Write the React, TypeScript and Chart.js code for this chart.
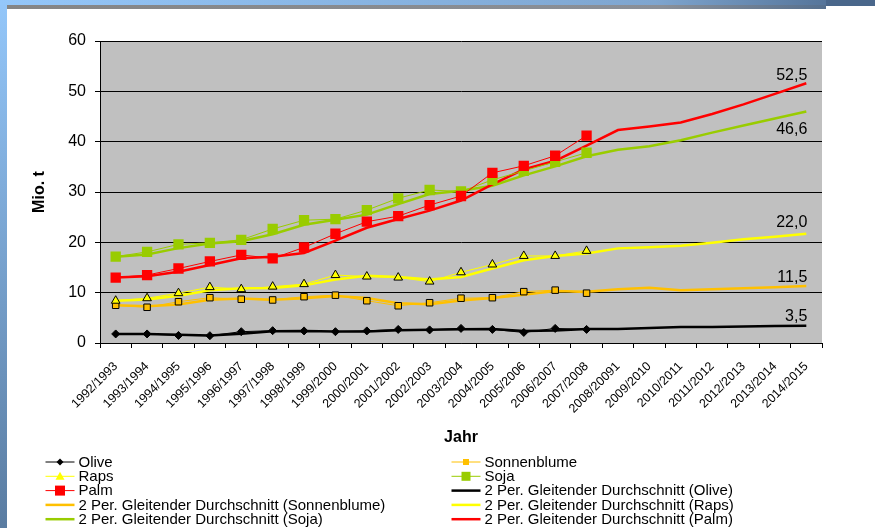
import { useEffect, useRef } from "react";
import { Chart, registerables } from "chart.js";

Chart.register(...registerables);

const categories = [
  "1992/1993", "1993/1994", "1994/1995", "1995/1996", "1996/1997", "1997/1998",
  "1998/1999", "1999/2000", "2000/2001", "2001/2002", "2002/2003", "2003/2004",
  "2004/2005", "2005/2006", "2006/2007", "2007/2008", "2008/20091", "2009/2010",
  "2010/2011", "2011/2012", "2012/2013", "2013/2014", "2014/2015",
];

const olive = [1.8, 1.8, 1.5, 1.45, 2.25, 2.45, 2.4, 2.25, 2.4, 2.7, 2.6, 2.9, 2.7, 2.1, 2.9, 2.7];
const sonnenblume = [7.5, 7.1, 8.2, 9.0, 8.7, 8.55, 9.2, 9.5, 8.4, 7.4, 8.0, 8.9, 9.0, 10.2, 10.5, 9.9];
const raps = [8.4, 8.9, 9.9, 11.1, 10.7, 11.2, 11.7, 13.5, 13.2, 13.0, 12.2, 14.05, 15.6, 17.3, 17.3, 18.3];
const palm = [13.0, 13.5, 14.8, 16.2, 17.5, 16.8, 19.0, 21.7, 24.1, 25.2, 27.4, 29.2, 33.8, 35.2, 37.2, 41.2];
const soja = [17.15, 18.1, 19.6, 19.9, 20.5, 22.65, 24.4, 24.6, 26.4, 28.75, 30.4, 30.1, 32.4, 34.2, 36.0, 37.8];

const maOlive = [1.8, 1.8, 1.65, 1.5, 1.85, 2.35, 2.4, 2.3, 2.3, 2.55, 2.65, 2.75, 2.8, 2.4, 2.5, 2.8, 2.8, 3.0, 3.2, 3.2, 3.3, 3.4, 3.45];
const maSonnenblume = [7.5, 7.3, 7.65, 8.6, 8.85, 8.6, 8.9, 9.35, 8.95, 7.9, 7.7, 8.45, 8.95, 9.6, 10.35, 10.2, 10.7, 11.0, 10.5, 10.7, 10.9, 11.1, 11.3];
const maRaps = [8.4, 8.65, 9.4, 10.5, 10.9, 10.95, 11.45, 12.6, 13.35, 13.1, 12.6, 13.1, 14.8, 16.45, 17.3, 17.8, 18.8, 19.0, 19.3, 19.9, 20.6, 21.1, 21.7];
const maPalm = [13.0, 13.25, 14.15, 15.5, 16.85, 17.15, 17.9, 20.35, 22.9, 24.65, 26.3, 28.3, 31.5, 34.5, 36.2, 39.2, 42.3, 43.0, 43.8, 45.5, 47.4, 49.5, 51.6];
const maSoja = [17.15, 17.6, 18.85, 19.75, 20.2, 21.6, 23.5, 24.5, 25.5, 27.6, 29.6, 30.25, 31.25, 33.3, 35.1, 37.1, 38.4, 39.1, 40.3, 41.8, 43.2, 44.6, 46.0];

// end-of-line labels for MA Olive, MA Sonnenblume, MA Raps, MA Soja, MA Palm
const endLabels = ["3,5", "11,5", "22,0", "46,6", "52,5"];

const yTicks = [0, 10, 20, 30, 40, 50, 60];

const FONT = "'Liberation Sans', Arial, sans-serif";

const pad = (arr: number[]) => categories.map((_, i) => (i < arr.length ? arr[i] : null));

const C_OLIVE = "#000000";
const C_SONNE = "#FFC000";
const C_RAPS = "#FFFF00";
const C_PALM = "#FF0000";
const C_SOJA = "#99CC00";

const bgPlugin = {
  id: "bgFrame",
  beforeDraw(chart: any) {
    const { ctx, chartArea: a, width, height } = chart;
    ctx.save();
    ctx.fillStyle = "#ffffff";
    ctx.fillRect(0, 0, width, height);
    let g = ctx.createLinearGradient(0, 0, 0, height);
    g.addColorStop(0, "#94c7fa");
    g.addColorStop(1, "#5a7ca1");
    ctx.fillStyle = g;
    ctx.fillRect(0, 0, 7, height);
    g = ctx.createLinearGradient(0, 0, width, 0);
    g.addColorStop(0, "#94c7fa");
    g.addColorStop(0.75, "#7ea5cf");
    g.addColorStop(1, "#4a678b");
    ctx.fillStyle = g;
    ctx.fillRect(0, 0, width, 5);
    ctx.fillStyle = "#4a678b";
    ctx.fillRect(826, 0, width - 826, 6);
    g = ctx.createLinearGradient(7, 0, 826, 0);
    g.addColorStop(0, "#858585");
    g.addColorStop(0.8, "#8a9099");
    g.addColorStop(1, "#56708f");
    ctx.fillStyle = g;
    ctx.fillRect(7, 5, 819, 4);
    ctx.fillStyle = "#C0C0C0";
    ctx.fillRect(a.left, a.top, a.right - a.left, a.bottom - a.top);
    ctx.restore();
  },
};

const endLabelPlugin = {
  id: "endLabels",
  afterDatasetsDraw(chart: any) {
    const { ctx } = chart;
    const maIdx = [5, 6, 7, 8, 9];
    const offsets = [-9, -9, -11, 18, -8];
    ctx.save();
    ctx.font = `16px ${FONT}`;
    ctx.fillStyle = "#000";
    ctx.textAlign = "right";
    ctx.textBaseline = "middle";
    maIdx.forEach((di, k) => {
      const meta = chart.getDatasetMeta(di);
      const pt = meta.data[meta.data.length - 1];
      if (!pt) return;
      ctx.fillText(endLabels[k], pt.x + 1, pt.y + offsets[k]);
    });
    ctx.restore();
  },
};

function drawMarker(ctx: CanvasRenderingContext2D, style: string, x: number, y: number, size: number, color: string) {
  ctx.fillStyle = color;
  ctx.beginPath();
  if (style === "rectRot") {
    ctx.moveTo(x, y - size);
    ctx.lineTo(x + size, y);
    ctx.lineTo(x, y + size);
    ctx.lineTo(x - size, y);
    ctx.closePath();
  } else if (style === "triangle") {
    ctx.moveTo(x, y - size);
    ctx.lineTo(x + size, y + size * 0.75);
    ctx.lineTo(x - size, y + size * 0.75);
    ctx.closePath();
  } else if (style === "rect") {
    ctx.rect(x - size, y - size, size * 2, size * 2);
  }
  ctx.fill();
}

const legendPlugin = {
  id: "customLegend",
  afterDraw(chart: any) {
    const { ctx } = chart;
    const cols = [
      { sym: 45.5, text: 78.5 },
      { sym: 451.5, text: 484.5 },
    ];
    const symW = 29;
    const y0 = 462;
    const rowH = 14.3;
    ctx.save();
    ctx.font = `15px ${FONT}`;
    ctx.textBaseline = "middle";
    ctx.textAlign = "left";
    chart.data.datasets.forEach((ds: any, i: number) => {
      const col = cols[i % 2];
      const y = y0 + Math.floor(i / 2) * rowH;
      ctx.strokeStyle = ds.borderColor;
      ctx.lineWidth = ds.legendLineWidth;
      ctx.beginPath();
      ctx.moveTo(col.sym, y);
      ctx.lineTo(col.sym + symW, y);
      ctx.stroke();
      if (ds.legendMarker) {
        drawMarker(ctx, ds.pointStyle, col.sym + symW / 2, y, ds.legendMarkerSize, ds.legendMarkerColor);
      }
      ctx.fillStyle = "#000";
      ctx.fillText(ds.label, col.text, y + 0.5);
    });
    ctx.restore();
  },
};

export default function App() {
  const ref = useRef<HTMLCanvasElement>(null);
  useEffect(() => {
    document.body.style.margin = "0";
    const series = (label: string, data: number[], color: string, style: string, radius: number, pFill: string, pBorder: string, pBW: number, order: number, lm: number) => ({
      label,
      data: pad(data),
      borderColor: color,
      backgroundColor: color,
      borderWidth: 1,
      pointStyle: style,
      pointRadius: radius,
      pointBackgroundColor: pFill,
      pointBorderColor: pBorder,
      pointBorderWidth: pBW,
      tension: 0,
      spanGaps: false,
      order,
      legendLineWidth: 1,
      legendMarker: true,
      legendMarkerSize: lm,
      legendMarkerColor: pFill,
    });
    const ma = (label: string, data: number[], color: string, order: number) => ({
      label,
      data,
      borderColor: color,
      backgroundColor: color,
      borderWidth: 2.5,
      pointRadius: 0,
      tension: 0,
      order,
      legendLineWidth: 2.5,
      legendMarker: false,
    });
    const chart = new Chart(ref.current!, {
      type: "line",
      data: {
        labels: categories,
        datasets: [
          series("Olive", olive, C_OLIVE, "rectRot", 4, C_OLIVE, C_OLIVE, 1, 4, 3.5),
          series("Sonnenblume", sonnenblume, C_SONNE, "rect", 4.6, C_SONNE, "#000", 1, 3, 3),
          series("Raps", raps, C_RAPS, "triangle", 5, C_RAPS, "#000", 1, 2, 4.5),
          series("Soja", soja, C_SOJA, "rect", 7.3, C_SOJA, C_SOJA, 0, 1, 4.5),
          series("Palm", palm, C_PALM, "rect", 7.3, C_PALM, C_PALM, 0, 0, 5),
          ma("2 Per. Gleitender Durchschnitt (Olive)", maOlive, C_OLIVE, 9),
          ma("2 Per. Gleitender Durchschnitt (Sonnenblume)", maSonnenblume, C_SONNE, 8),
          ma("2 Per. Gleitender Durchschnitt (Raps)", maRaps, C_RAPS, 7),
          ma("2 Per. Gleitender Durchschnitt (Soja)", maSoja, C_SOJA, 6),
          ma("2 Per. Gleitender Durchschnitt (Palm)", maPalm, C_PALM, 5),
        ] as any,
      },
      options: {
        responsive: false,
        devicePixelRatio: 1,
        animation: false,
        events: [],
        layout: { padding: { left: 0, top: 41, right: 53, bottom: 80 } },
        plugins: {
          legend: { display: false },
          tooltip: { enabled: false },
        },
        scales: {
          x: {
            type: "category",
            offset: true,
            afterFit: (s: any) => {
              s.height = 105;
            },
            grid: {
              offset: true,
              drawOnChartArea: false,
              drawTicks: true,
              tickLength: 5,
              color: "#000",
            },
            border: { display: true, color: "#000", width: 1 },
            ticks: {
              autoSkip: false,
              maxRotation: 45,
              minRotation: 45,
              padding: 11,
              color: "#000",
              font: { family: FONT, size: 12.5 },
            },
            title: {
              display: true,
              text: "Jahr",
              color: "#000",
              font: { family: FONT, size: 16, weight: "bold" },
              padding: { top: 0, bottom: 1 },
            },
          },
          y: {
            min: 0,
            max: 60,
            afterFit: (s: any) => {
              s.width = 100;
            },
            afterBuildTicks: (s: any) => {
              s.ticks = yTicks.map((v) => ({ value: v }));
            },
            grid: {
              color: "#000",
              lineWidth: 1,
              drawTicks: true,
              tickLength: 5,
            },
            border: { display: true, color: "#000", width: 1 },
            ticks: {
              padding: 9,
              color: "#000",
              font: { family: FONT, size: 16 },
            },
            title: {
              display: true,
              text: "Mio. t",
              color: "#000",
              font: { family: FONT, size: 16, weight: "bold" },
              padding: { top: 30, bottom: 0 },
            },
          },
        },
      } as any,
      plugins: [bgPlugin, endLabelPlugin, legendPlugin],
    });
    return () => chart.destroy();
  }, []);
  return (
    <div style={{ width: 875, height: 528, position: "relative" }}>
      <canvas ref={ref} width={875} height={528} style={{ display: "block", width: 875, height: 528 }} />
    </div>
  );
}
